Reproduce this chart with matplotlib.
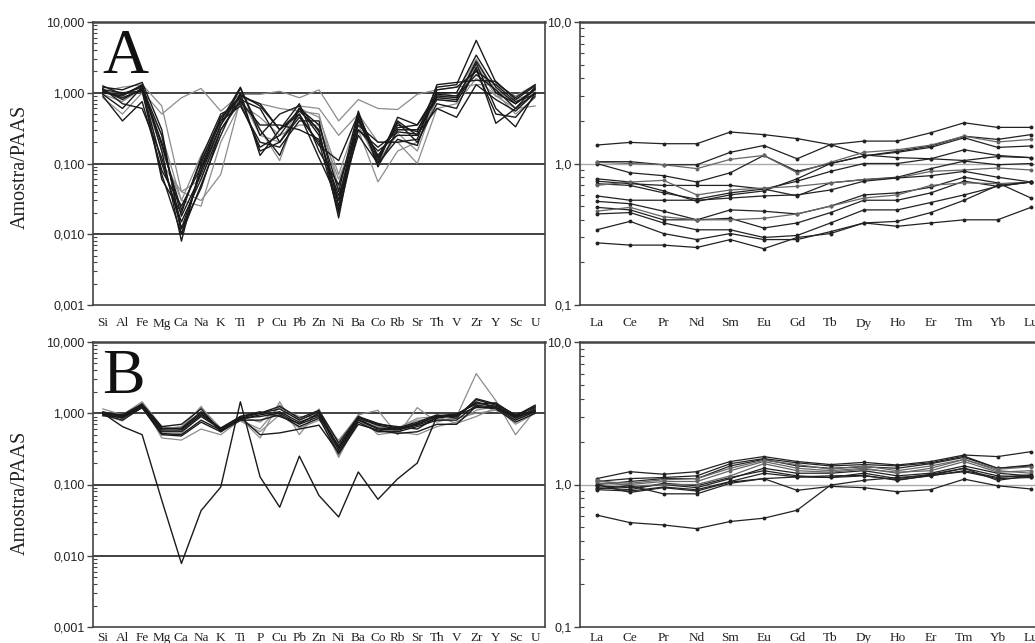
import numpy as np
import matplotlib
matplotlib.use('Agg')
import matplotlib.pyplot as plt
from matplotlib.ticker import FixedLocator, FixedFormatter, LogLocator, NullFormatter

elements = ['Si', 'Al', 'Fe', 'Mg', 'Ca', 'Na', 'K', 'Ti', 'P', 'Cu', 'Pb', 'Zn',
            'Ni', 'Ba', 'Co', 'Rb', 'Sr', 'Th', 'V', 'Zr', 'Y', 'Sc', 'U']
rees = ['La', 'Ce', 'Pr', 'Nd', 'Sm', 'Eu', 'Gd', 'Tb', 'Dy', 'Ho', 'Er', 'Tm', 'Yb', 'Lu']

# group A - major/trace elements (sample / PAAS)
maj_a_black = [
    [1.25, 0.95, 1.2, 0.25, 0.012, 0.08, 0.35, 1.15, 0.3, 0.13, 0.6, 0.25, 0.03, 0.5, 0.12, 0.35, 0.28, 1.2, 1.3, 5.5, 1.4, 0.85, 1.3],
    [1.0, 0.9, 1.3, 0.15, 0.008, 0.1, 0.45, 0.9, 0.7, 0.3, 0.55, 0.3, 0.017, 0.45, 0.1, 0.45, 0.35, 1.0, 1.0, 3.4, 1.2, 0.7, 1.1],
    [1.1, 0.8, 1.15, 0.1, 0.015, 0.06, 0.3, 0.8, 0.6, 0.2, 0.45, 0.2, 0.02, 0.3, 0.15, 0.25, 0.25, 0.9, 0.85, 2.6, 0.6, 0.33, 1.0],
    [0.95, 0.6, 1.2, 0.06, 0.02, 0.12, 0.5, 0.7, 0.17, 0.25, 0.6, 0.35, 0.04, 0.55, 0.09, 0.3, 0.3, 0.8, 0.75, 2.1, 0.5, 0.45, 0.9],
    [1.2, 1.1, 1.4, 0.3, 0.01, 0.05, 0.25, 1.0, 0.13, 0.3, 0.7, 0.15, 0.05, 0.35, 0.2, 0.2, 0.22, 1.3, 1.4, 1.5, 1.45, 0.8, 1.25],
    [0.9, 0.4, 0.75, 0.08, 0.025, 0.09, 0.4, 0.65, 0.2, 0.17, 0.4, 0.4, 0.025, 0.4, 0.11, 0.38, 0.2, 0.7, 0.6, 2.3, 0.37, 0.6, 1.2],
    [1.05, 0.85, 1.1, 0.2, 0.018, 0.07, 0.35, 0.95, 0.65, 0.3, 0.5, 0.18, 0.11, 0.5, 0.12, 0.4, 0.25, 0.95, 0.9, 1.8, 1.1, 0.6, 1.0],
    [1.15, 0.7, 0.6, 0.12, 0.012, 0.045, 0.3, 0.75, 0.35, 0.35, 0.3, 0.22, 0.035, 0.3, 0.17, 0.28, 0.26, 0.6, 0.45, 1.3, 0.8, 0.55, 1.0],
    [1.0, 0.95, 1.25, 0.18, 0.022, 0.11, 0.4, 1.2, 0.25, 0.5, 0.65, 0.28, 0.022, 0.42, 0.13, 0.32, 0.35, 0.85, 0.8, 2.8, 1.0, 0.7, 1.15],
    [1.1, 1.0, 1.05, 0.07, 0.01, 0.08, 0.45, 0.85, 0.15, 0.2, 0.5, 0.12, 0.03, 0.25, 0.1, 0.22, 0.18, 1.1, 1.2, 2.0, 1.3, 0.75, 0.95],
]
maj_a_gray = [
    [1.0, 1.0, 1.05, 0.5, 0.85, 1.15, 0.55, 0.95, 0.95, 1.05, 0.85, 1.1, 0.4, 0.8, 0.6, 0.58, 0.95, 1.1, 1.2, 1.3, 1.3, 0.9, 1.3],
    [1.05, 1.2, 1.3, 0.65, 0.04, 0.03, 0.07, 0.8, 0.3, 0.11, 0.65, 0.6, 0.25, 0.5, 0.2, 0.2, 0.1, 0.6, 0.7, 1.6, 0.9, 0.8, 1.0],
    [0.85, 0.5, 1.0, 0.25, 0.03, 0.025, 0.2, 0.7, 0.45, 0.25, 0.35, 0.35, 0.06, 0.3, 0.055, 0.15, 0.2, 0.8, 0.75, 2.5, 0.9, 0.6, 0.65],
    [1.1, 0.85, 1.1, 0.15, 0.03, 0.13, 0.4, 0.9, 0.25, 0.2, 0.6, 0.45, 0.07, 0.45, 0.09, 0.27, 0.15, 0.9, 1.0, 3.0, 1.0, 0.5, 0.85],
    [0.95, 0.75, 1.15, 0.1, 0.04, 0.06, 0.35, 0.85, 0.7, 0.6, 0.55, 0.5, 0.045, 0.35, 0.1, 0.3, 0.3, 0.85, 0.9, 2.2, 1.1, 0.7, 1.1],
]

# group B - major/trace elements
maj_b_black = [
    [1.0, 0.9, 1.3, 0.62, 0.6, 1.0, 0.58, 0.85, 1.0, 1.15, 0.8, 1.05, 0.33, 0.85, 0.68, 0.6, 0.72, 0.9, 0.9, 1.55, 1.3, 0.9, 1.25],
    [0.98, 0.85, 1.25, 0.55, 0.55, 0.9, 0.6, 0.82, 0.95, 1.05, 0.75, 0.95, 0.3, 0.8, 0.6, 0.58, 0.68, 0.85, 0.95, 1.4, 1.25, 0.85, 1.1],
    [1.0, 0.95, 1.35, 0.65, 0.7, 1.15, 0.55, 0.9, 1.0, 1.25, 0.85, 1.1, 0.38, 0.9, 0.72, 0.62, 0.75, 0.95, 0.85, 1.6, 1.35, 0.95, 1.2],
    [0.95, 0.8, 1.2, 0.52, 0.5, 0.8, 0.58, 0.88, 0.5, 0.53, 0.6, 0.68, 0.28, 0.75, 0.55, 0.55, 0.65, 0.8, 0.8, 1.3, 1.2, 0.8, 1.05],
    [1.02, 0.92, 1.28, 0.6, 0.62, 1.05, 0.6, 0.85, 0.9, 1.0, 0.7, 0.9, 0.35, 0.88, 0.7, 0.65, 0.6, 0.88, 0.92, 1.45, 1.2, 0.88, 1.15],
    [0.92, 0.88, 1.2, 0.5, 0.48, 0.75, 0.55, 0.8, 0.8, 0.95, 0.65, 0.85, 0.27, 0.7, 0.58, 0.52, 0.55, 0.7, 0.7, 1.25, 1.15, 0.75, 1.0],
    [1.05, 0.9, 1.3, 0.58, 0.58, 0.95, 0.62, 0.9, 1.05, 0.9, 0.72, 1.0, 0.32, 0.82, 0.62, 0.6, 0.7, 0.92, 0.98, 1.35, 1.4, 0.92, 1.3],
    [1.0, 0.65, 0.5, 0.06, 0.0078, 0.043, 0.092, 1.45, 0.128, 0.048, 0.25, 0.07, 0.035, 0.15, 0.062, 0.12, 0.2, 0.9, 0.95, 1.2, 1.2, 0.9, 1.05],
]
maj_b_gray = [
    [1.15, 0.95, 1.45, 0.65, 0.6, 1.25, 0.55, 0.85, 0.45, 1.45, 0.5, 1.15, 0.25, 0.95, 1.1, 0.5, 1.2, 0.75, 0.9, 3.6, 1.5, 0.5, 1.1],
    [1.0, 0.85, 1.4, 0.45, 0.42, 0.6, 0.5, 0.8, 0.6, 1.3, 0.8, 1.1, 0.4, 0.95, 0.5, 0.55, 0.5, 0.65, 0.75, 1.1, 1.25, 0.7, 1.0],
    [0.95, 0.78, 1.35, 0.6, 0.65, 1.2, 0.62, 0.9, 0.75, 1.2, 0.9, 0.9, 0.24, 0.8, 0.55, 0.6, 0.8, 0.8, 0.85, 1.0, 1.1, 0.8, 1.15],
    [1.0, 0.88, 1.2, 0.5, 0.52, 0.95, 0.6, 0.78, 0.55, 0.95, 0.62, 0.8, 0.42, 0.9, 0.65, 0.62, 0.85, 0.9, 0.72, 0.9, 1.2, 0.85, 1.05],
]

# group A - rare earth elements
ree_a = [
    [1.35, 1.41, 1.38, 1.38, 1.67, 1.6, 1.5, 1.36, 1.15, 1.1, 1.08, 1.05, 1.12, 1.1],
    [1.03, 1.03, 0.98, 0.98, 1.2, 1.34, 1.08, 1.36, 1.44, 1.44, 1.65, 1.94, 1.8, 1.8],
    [1.0, 0.86, 0.82, 0.74, 0.86, 1.14, 0.88, 1.0, 1.13, 1.22, 1.33, 1.56, 1.48, 1.6],
    [1.02, 1.0, 0.98, 0.92, 1.07, 1.14, 0.86, 1.02, 1.2, 1.25, 1.35, 1.56, 1.42, 1.48],
    [0.78, 0.74, 0.64, 0.54, 0.6, 0.64, 0.78, 1.0, 1.13, 1.2, 1.3, 1.52, 1.3, 1.33],
    [0.75, 0.72, 0.7, 0.7, 0.7, 0.66, 0.75, 0.88, 1.0, 1.0, 1.08, 1.25, 1.14, 1.1],
    [0.72, 0.7, 0.62, 0.56, 0.62, 0.66, 0.59, 0.73, 0.77, 0.8, 0.92, 1.04, 0.98, 1.0],
    [0.7, 0.74, 0.76, 0.6, 0.65, 0.67, 0.69, 0.73, 0.77, 0.79, 0.88, 0.9, 0.93, 0.9],
    [0.59, 0.55, 0.55, 0.55, 0.57, 0.59, 0.6, 0.65, 0.75, 0.79, 0.82, 0.88, 0.8, 0.74],
    [0.54, 0.52, 0.46, 0.4, 0.47, 0.46, 0.44, 0.5, 0.6, 0.62, 0.68, 0.8, 0.73, 0.57],
    [0.49, 0.47, 0.4, 0.4, 0.41, 0.35, 0.38, 0.45, 0.55, 0.55, 0.62, 0.75, 0.69, 0.74],
    [0.46, 0.49, 0.42, 0.4, 0.4, 0.41, 0.44, 0.5, 0.57, 0.6, 0.7, 0.73, 0.72, 0.74],
    [0.44, 0.45, 0.38, 0.34, 0.34, 0.3, 0.31, 0.38, 0.47, 0.47, 0.53, 0.6, 0.69, 0.74],
    [0.34, 0.39, 0.32, 0.29, 0.32, 0.29, 0.29, 0.33, 0.38, 0.36, 0.38, 0.4, 0.4, 0.49],
    [0.275, 0.265, 0.265, 0.255, 0.29, 0.25, 0.3, 0.32, 0.38, 0.39, 0.45, 0.55, 0.7, 0.74],
]

# group B - rare earth elements
ree_b = [
    [1.1, 1.23, 1.18, 1.23, 1.45, 1.57, 1.45, 1.38, 1.43, 1.37, 1.45, 1.61, 1.57, 1.7],
    [1.05, 1.1, 1.12, 1.15, 1.4, 1.52, 1.42, 1.35, 1.38, 1.35, 1.42, 1.58, 1.3, 1.37],
    [1.0, 1.05, 1.1, 1.1, 1.35, 1.5, 1.35, 1.3, 1.33, 1.3, 1.4, 1.55, 1.3, 1.35],
    [1.02, 1.0, 1.05, 1.05, 1.25, 1.45, 1.3, 1.25, 1.3, 1.2, 1.3, 1.5, 1.25, 1.2],
    [0.98, 0.95, 1.0, 0.95, 1.1, 1.3, 1.2, 1.2, 1.25, 1.15, 1.2, 1.35, 1.2, 1.15],
    [0.95, 0.92, 1.02, 0.98, 1.12, 1.25, 1.15, 1.12, 1.2, 1.1, 1.18, 1.3, 1.15, 1.13],
    [0.92, 0.9, 0.96, 0.92, 1.05, 1.2, 1.13, 1.12, 1.15, 1.08, 1.15, 1.25, 1.12, 1.17],
    [1.08, 0.97, 1.0, 1.0, 1.15, 1.4, 1.25, 1.22, 1.28, 1.22, 1.25, 1.45, 1.22, 1.25],
    [1.0, 0.88, 0.95, 0.9, 1.04, 1.1, 1.13, 1.15, 1.16, 1.07, 1.16, 1.23, 1.1, 1.12],
    [0.93, 0.98, 0.86, 0.86, 1.02, 1.1, 0.91, 0.97, 0.95, 0.89, 0.92, 1.09, 0.98, 0.93],
    [0.61, 0.54, 0.52, 0.49, 0.55, 0.58, 0.66, 0.99, 1.07, 1.12, 1.16, 1.3, 1.07, 1.15],
    [1.05, 1.02, 1.08, 1.1, 1.3, 1.48, 1.38, 1.28, 1.35, 1.25, 1.35, 1.5, 1.28, 1.33],
]

maj_ticks = [0.001, 0.01, 0.1, 1, 10]
maj_labels = ['0,001', '0,010', '0,100', '1,000', '10,000']
ree_ticks = [0.1, 1, 10]
ree_labels = ['0,1', '1,0', '10,0']

W, H = 1035, 643
fig = plt.figure(figsize=(W / 100, H / 100), dpi=100)

def px_axes(x0, y0, x1, y1):
    return fig.add_axes([x0 / W, 1 - y1 / H, (x1 - x0) / W, (y1 - y0) / H])

spine_c = '#444444'

def style(ax, ticks, labels, cats, xlim, pad):
    ax.set_yscale('log')
    ax.set_ylim(ticks[0], ticks[-1])
    ax.set_xlim(*xlim)
    ax.yaxis.set_major_locator(FixedLocator(ticks))
    ax.yaxis.set_major_formatter(FixedFormatter(labels))
    ax.yaxis.set_minor_locator(LogLocator(base=10, subs=np.arange(2, 10)))
    ax.yaxis.set_minor_formatter(NullFormatter())
    ax.tick_params(axis='y', which='major', direction='out', length=4, width=1,
                   color=spine_c, labelsize=9, pad=2, labelcolor='#222222')
    ax.tick_params(axis='y', which='minor', direction='in', length=3, width=0.8,
                   color=spine_c)
    ax.set_xticks(np.arange(len(cats)))
    ax.set_xticklabels(cats, family='Liberation Serif', fontsize=9.5)
    ax.tick_params(axis='x', length=0, pad=pad, labelcolor='#222222')
    for lab in ax.get_yticklabels():
        lab.set_family('Liberation Sans')
    for s in ax.spines.values():
        s.set_color(spine_c)
        s.set_linewidth(1.2)
    ax.spines['top'].set_linewidth(1.8)


def major_panel(ax, blacks, grays, letter, pad):
    style(ax, maj_ticks, maj_labels, elements, (-0.5, 22.5), pad)
    for g in [0.01, 0.1, 1]:
        ax.axhline(g, color='#333333', lw=1.3, zorder=1)
    x = np.arange(len(elements))
    for s in grays:
        ax.plot(x, s, color='#8c8c8c', lw=0.9, zorder=2)
    for s in blacks:
        ax.plot(x, s, color='#1a1a1a', lw=1.0, zorder=3)
    ax.text(0.02, 0.82, letter, transform=ax.transAxes, family='Liberation Serif',
            fontsize=46, ha='left', va='baseline', color='#111111')


def ree_panel(ax, series, pad):
    style(ax, ree_ticks, ree_labels, rees, (-0.5, 13.15), pad)
    ax.spines['right'].set_visible(False)
    ax.axhline(1, color='#aaaaaa', lw=1.0, zorder=1)
    x = np.arange(len(rees))
    for i, s in enumerate(series):
        c = '#666666' if i % 4 == 3 else '#222222'
        ax.plot(x, s, color=c, lw=0.9, marker='o', ms=1.8, zorder=3)


ax_a = px_axes(93, 22, 545, 305)
ax_b = px_axes(93, 342, 545, 627)
ax_ra = px_axes(580, 22, 1036, 305)
ax_rb = px_axes(580, 342, 1036, 627)

major_panel(ax_a, maj_a_black, maj_a_gray, 'A', 9)
major_panel(ax_b, maj_b_black, maj_b_gray, 'B', 3.5)
ree_panel(ax_ra, ree_a, 9)
ree_panel(ax_rb, ree_b, 3.5)

for yc in [(22 + 305) / 2 + 3, (342 + 627) / 2 + 8]:
    fig.text(20 / W, 1 - yc / H, 'Amostra/PAAS', rotation=90, ha='center', va='center',
             family='Liberation Serif', fontsize=14.5, color='#222222')

fig.savefig('out.png', dpi=100)
